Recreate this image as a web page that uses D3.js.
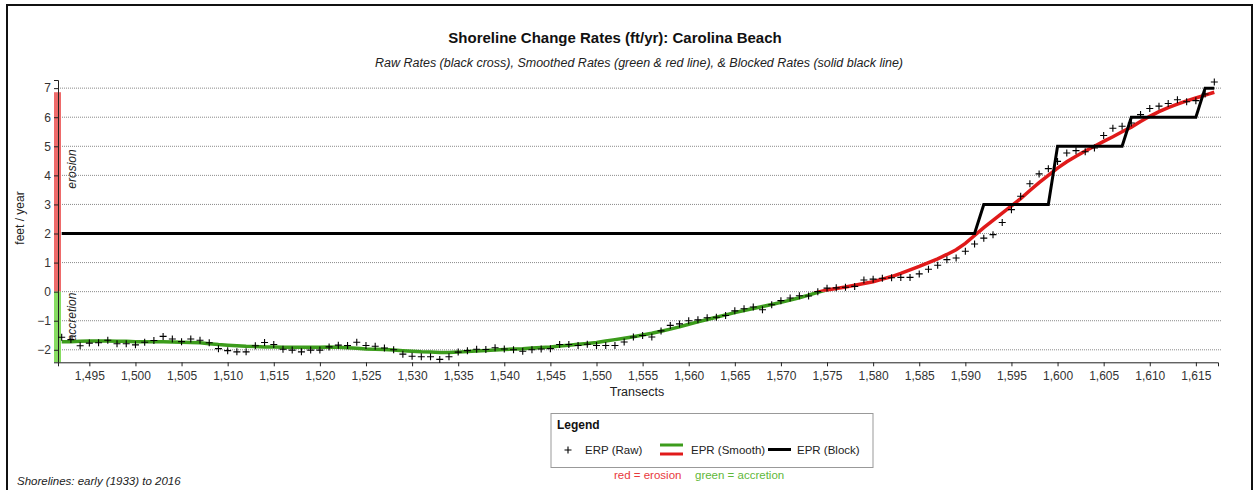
<!DOCTYPE html>
<html><head><meta charset="utf-8">
<script src="https://cdn.jsdelivr.net/npm/d3@7"></script>
<style>
html,body{margin:0;padding:0;background:#fff;}
svg{display:block;font-family:"Liberation Sans",Arial,sans-serif;}
</style></head>
<body>
<svg id="chart" width="1257" height="490"></svg>
<script>
const firstTransect = 1492;
const rawRates = [
-1.57,-1.65,-1.86,-1.77,-1.76,-1.67,-1.79,-1.79,-1.83,-1.74,
-1.68,-1.54,-1.63,-1.72,-1.63,-1.67,-1.76,-1.96,-2.03,-2.07,
-2.07,-1.86,-1.75,-1.82,-1.98,-2.01,-2.07,-2.01,-2.01,-1.90,
-1.84,-1.85,-1.74,-1.85,-1.88,-1.94,-2.00,-2.15,-2.22,-2.24,
-2.24,-2.33,-2.24,-2.08,-2.03,-1.98,-1.99,-1.93,-1.97,-2.00,
-2.05,-2.00,-1.97,-1.96,-1.82,-1.82,-1.85,-1.81,-1.85,-1.85,
-1.85,-1.73,-1.56,-1.51,-1.56,-1.35,-1.16,-1.11,-1.00,-0.97,
-0.90,-0.88,-0.82,-0.66,-0.59,-0.53,-0.62,-0.45,-0.31,-0.22,
-0.14,-0.15,0.00,0.12,0.13,0.15,0.18,0.40,0.43,0.46,
0.48,0.49,0.49,0.61,0.77,0.91,1.10,1.16,1.39,1.64,
1.84,1.96,2.38,2.82,3.28,3.71,4.05,4.23,4.48,4.77,
4.85,4.81,4.94,5.37,5.62,5.69,5.80,6.09,6.30,6.38,
6.47,6.60,6.53,6.57,6.80,7.21
];
const smoothRates = [
-1.72,-1.72,-1.71,-1.70,-1.70,-1.70,-1.71,-1.71,-1.72,-1.72,
-1.72,-1.72,-1.73,-1.74,-1.75,-1.76,-1.79,-1.82,-1.84,-1.86,
-1.88,-1.89,-1.90,-1.90,-1.91,-1.91,-1.91,-1.91,-1.91,-1.90,
-1.91,-1.93,-1.95,-1.97,-1.98,-1.99,-2.01,-2.03,-2.05,-2.07,
-2.08,-2.09,-2.09,-2.08,-2.06,-2.04,-2.02,-2.01,-1.99,-1.97,
-1.96,-1.94,-1.92,-1.90,-1.87,-1.84,-1.81,-1.78,-1.75,-1.70,
-1.65,-1.60,-1.55,-1.49,-1.43,-1.36,-1.29,-1.21,-1.12,-1.04,
-0.96,-0.88,-0.80,-0.72,-0.65,-0.58,-0.51,-0.44,-0.37,-0.29,
-0.21,-0.12,-0.02,0.06,0.11,0.16,0.22,0.28,0.34,0.43,
0.52,0.63,0.75,0.87,1.00,1.13,1.28,1.44,1.66,1.93,
2.20,2.45,2.70,2.95,3.20,3.48,3.75,4.00,4.25,4.47,
4.66,4.84,5.00,5.17,5.33,5.50,5.66,5.85,6.03,6.19,
6.33,6.45,6.56,6.66,6.76,6.86
];
const blockTransects = [1492,1591,1592,1599,1600,1607,1608,1615,1616,1617];
const blockRates =     [2,   2,   3,   3,   5,   5,   6,   6,   7,   7];
const xTicks = [1495,1500,1505,1510,1515,1520,1525,1530,1535,1540,1545,1550,1555,1560,1565,1570,1575,1580,1585,1590,1595,1600,1605,1610,1615];
const yTicks = [-2,-1,0,1,2,3,4,5,6,7];

const transects = rawRates.map((d,i)=>firstTransect+i);
const svg = d3.select("#chart");

// outer frame
svg.append("rect").attr("x",7).attr("y",5).attr("width",1245).attr("height",500)
  .attr("fill","none").attr("stroke","#111").attr("stroke-width",2);

const x = d3.scaleLinear().domain([1491.6,1617.4]).range([58,1218]);
const y = d3.scaleLinear().domain([-2.43,7.28]).range([362.3,80]);

// gridlines
svg.append("g").selectAll("line").data(yTicks).join("line")
  .attr("x1",58).attr("x2",1222).attr("y1",d=>y(d)).attr("y2",d=>y(d))
  .attr("stroke","#8a8a8a").attr("stroke-width",1).attr("stroke-dasharray","1,1");

// erosion / accretion bars
const maxSmooth = d3.max(smoothRates);
svg.append("rect").attr("x",54).attr("width",7).attr("y",y(maxSmooth)).attr("height",y(0)-y(maxSmooth))
  .attr("fill","#ee6a6a");
svg.append("rect").attr("x",54).attr("width",7).attr("y",y(0)).attr("height",y(y.domain()[0])-y(0))
  .attr("fill","#86dc62");

svg.append("text").attr("transform",`translate(75.5,${169}) rotate(-90)`).attr("text-anchor","middle")
  .attr("font-size",12).attr("font-style","italic").attr("fill","#222").text("erosion");
svg.append("text").attr("transform",`translate(75.5,${317}) rotate(-90)`).attr("text-anchor","middle")
  .attr("font-size",12).attr("font-style","italic").attr("fill","#222").text("accretion");

// axes
const xAxis = d3.axisBottom(x).tickValues(xTicks).tickFormat(d3.format(",")).tickSizeOuter(0).tickSize(4);
const gx = svg.append("g").attr("transform",`translate(0,${y.range()[0]})`).call(xAxis);
gx.select(".domain").attr("stroke","#222");
gx.selectAll(".tick line").attr("stroke","#222");
gx.selectAll("text").attr("font-size",12).attr("fill","#333").attr("font-family","Liberation Sans, Arial, sans-serif").attr("dy","0.9em");

const yAxis = d3.axisLeft(y).tickValues(yTicks).tickSizeOuter(0).tickSize(4);
const gy = svg.append("g").attr("transform","translate(58,0)").call(yAxis);
gy.select(".domain").attr("stroke","#222");
gy.selectAll(".tick line").attr("stroke","#222");
gy.selectAll("text").attr("font-size",12).attr("fill","#333").attr("font-family","Liberation Sans, Arial, sans-serif");

// axis titles
svg.append("text").attr("x",637).attr("y",396).attr("text-anchor","middle").attr("font-size",12.5).attr("fill","#222").text("Transects");
svg.append("text").attr("transform","translate(24,218) rotate(-90)").attr("text-anchor","middle").attr("font-size",12).attr("fill","#222").text("feet / year");

// titles
svg.append("text").attr("x",615).attr("y",43).attr("text-anchor","middle").attr("font-size",15).attr("font-weight","bold").attr("fill","#111")
  .text("Shoreline Change Rates (ft/yr): Carolina Beach");
svg.append("text").attr("x",639).attr("y",67).attr("text-anchor","middle").attr("font-size",12.5).attr("font-style","italic").attr("fill","#222")
  .text("Raw Rates (black cross), Smoothed Rates (green & red line), & Blocked Rates (solid black line)");

// clip paths for smooth colouring
const defs = svg.append("defs");
defs.append("clipPath").attr("id","above").append("rect")
  .attr("x",50).attr("width",1200).attr("y",0).attr("height",y(0));
defs.append("clipPath").attr("id","below").append("rect")
  .attr("x",50).attr("width",1200).attr("y",y(0)).attr("height",400);

const smoothLine = d3.line().x((d,i)=>x(transects[i])).y(d=>y(d));
svg.append("path").datum(smoothRates).attr("d",smoothLine).attr("fill","none")
  .attr("stroke","#3c9c1c").attr("stroke-width",3.5).attr("clip-path","url(#below)");
svg.append("path").datum(smoothRates).attr("d",smoothLine).attr("fill","none")
  .attr("stroke","#e01a1a").attr("stroke-width",3.5).attr("clip-path","url(#above)");

// block line
const blockLine = d3.line().x((d,i)=>x(blockTransects[i])).y(d=>y(d));
svg.append("path").datum(blockRates).attr("d",blockLine).attr("fill","none")
  .attr("stroke","#000").attr("stroke-width",3).attr("stroke-linejoin","miter");

// raw crosses
const s = 3.5;
svg.append("g").selectAll("path").data(rawRates).join("path")
  .attr("d",(d,i)=>{const cx=x(transects[i]), cy=y(d); return `M${cx-s},${cy}H${cx+s}M${cx},${cy-s}V${cy+s}`;})
  .attr("stroke","#000").attr("stroke-width",1.1).attr("fill","none");

// legend
const lg = svg.append("g");
lg.append("rect").attr("x",551).attr("y",413.5).attr("width",322).attr("height",54).attr("fill","#fff").attr("stroke","#999").attr("stroke-width",1);
lg.append("text").attr("x",557).attr("y",428.5).attr("font-size",12).attr("font-weight","bold").attr("fill","#111").text("Legend");
lg.append("path").attr("d","M564.5,450H571.5M568,446.5V453.5").attr("stroke","#000").attr("stroke-width",1.1);
lg.append("text").attr("x",585).attr("y",453.5).attr("font-size",11.5).attr("fill","#222").text("ERP (Raw)");
lg.append("line").attr("x1",660).attr("x2",683).attr("y1",445).attr("y2",445).attr("stroke","#3c9c1c").attr("stroke-width",3);
lg.append("line").attr("x1",660).attr("x2",683).attr("y1",454).attr("y2",454).attr("stroke","#e01a1a").attr("stroke-width",3);
lg.append("text").attr("x",691).attr("y",453.5).attr("font-size",11.5).attr("fill","#222").text("EPR (Smooth)");
lg.append("line").attr("x1",768).attr("x2",791).attr("y1",449.5).attr("y2",449.5).attr("stroke","#000").attr("stroke-width",3);
lg.append("text").attr("x",797).attr("y",453.5).attr("font-size",11.5).attr("fill","#222").text("EPR (Block)");

svg.append("text").attr("x",614).attr("y",479).attr("font-size",11.5).attr("fill","#e8393c").text("red = erosion");
svg.append("text").attr("x",695).attr("y",479).attr("font-size",11.5).attr("fill","#5fb83a").text("green = accretion");

svg.append("text").attr("x",17).attr("y",485).attr("font-size",11.5).attr("font-style","italic").attr("fill","#222").text("Shorelines: early (1933) to 2016");
</script>
</body></html>
